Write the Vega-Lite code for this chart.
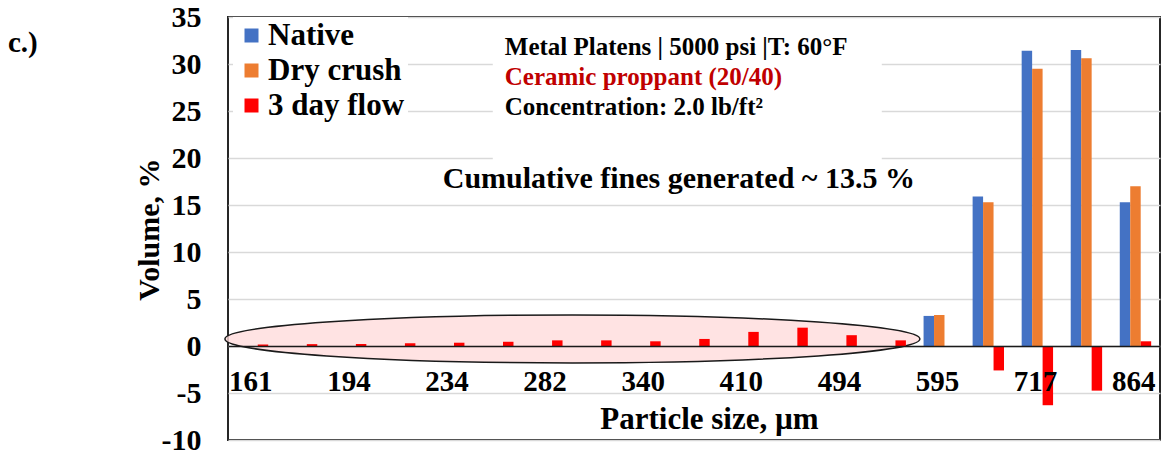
{
  "$schema": "https://vega.github.io/schema/vega-lite/v6.json",
  "width": 932,
  "height": 423,
  "autosize": {"type": "none"},
  "padding": {"left": 228, "top": 17, "right": 2, "bottom": 12},
  "background": "white",
  "config": {
    "font": "Liberation Serif",
    "view": {"stroke": "#262626", "strokeWidth": 2},
    "text": {"font": "Liberation Serif", "fontWeight": "bold"}
  },
  "title": {
    "text": "c.)",
    "anchor": "start",
    "frame": "group",
    "orient": "top",
    "font": "Liberation Serif",
    "fontSize": 29,
    "fontWeight": "bold",
    "color": "black",
    "baseline": "alphabetic",
    "offset": 0,
    "dx": -220,
    "dy": 79
  },
  "datasets": {
    "psd": [
      {"size": "161", "series": "3 day flow", "value": 0.15},
      {"size": "177", "series": "3 day flow", "value": 0.2},
      {"size": "194", "series": "3 day flow", "value": 0.2},
      {"size": "213", "series": "3 day flow", "value": 0.3},
      {"size": "234", "series": "3 day flow", "value": 0.35},
      {"size": "257", "series": "3 day flow", "value": 0.45},
      {"size": "282", "series": "3 day flow", "value": 0.6},
      {"size": "310", "series": "3 day flow", "value": 0.6},
      {"size": "340", "series": "3 day flow", "value": 0.5},
      {"size": "374", "series": "3 day flow", "value": 0.75},
      {"size": "410", "series": "3 day flow", "value": 1.5},
      {"size": "450", "series": "3 day flow", "value": 1.95},
      {"size": "494", "series": "3 day flow", "value": 1.15},
      {"size": "543", "series": "3 day flow", "value": 0.6},
      {"size": "595", "series": "Native", "value": 3.2},
      {"size": "595", "series": "Dry crush", "value": 3.3},
      {"size": "595", "series": "3 day flow", "value": 0},
      {"size": "654", "series": "Native", "value": 15.9},
      {"size": "654", "series": "Dry crush", "value": 15.3},
      {"size": "654", "series": "3 day flow", "value": -2.6},
      {"size": "717", "series": "Native", "value": 31.4},
      {"size": "717", "series": "Dry crush", "value": 29.5},
      {"size": "717", "series": "3 day flow", "value": -6.3},
      {"size": "787", "series": "Native", "value": 31.5},
      {"size": "787", "series": "Dry crush", "value": 30.6},
      {"size": "787", "series": "3 day flow", "value": -4.75},
      {"size": "864", "series": "Native", "value": 15.3},
      {"size": "864", "series": "Dry crush", "value": 17.0},
      {"size": "864", "series": "3 day flow", "value": 0.5}
    ]
  },
  "layer": [
    {
      "description": "white backing behind the test-condition note",
      "data": {"values": [{"size": "257", "value": 31}]},
      "mark": {
        "type": "point",
        "shape": "M -5 -30 H 384 V 110 H -5 Z",
        "size": 4,
        "filled": true,
        "fill": "white",
        "opacity": 1,
        "strokeWidth": 0
      },
      "encoding": {
        "x": {"field": "size", "type": "nominal"},
        "y": {"field": "value", "type": "quantitative"}
      }
    },
    {
      "description": "ellipse around the fines generated in the small size classes",
      "data": {"values": [{"size": "310", "value": 0.75}]},
      "mark": {
        "type": "point",
        "shape": "M -371 0 A 347.5 24 0 1 0 324 0 A 347.5 24 0 1 0 -371 0 Z",
        "size": 4,
        "filled": true,
        "fill": "#FFDCDC",
        "fillOpacity": 0.8,
        "opacity": 1,
        "stroke": "#1a1a1a",
        "strokeWidth": 1.5
      },
      "encoding": {
        "x": {"field": "size", "type": "nominal"},
        "y": {"field": "value", "type": "quantitative"}
      }
    },
    {
      "data": {"name": "psd"},
      "mark": {"type": "bar"},
      "encoding": {
        "x": {
          "field": "size",
          "type": "nominal",
          "sort": null,
          "scale": {
            "domain": ["161", "177", "194", "213", "234", "257", "282", "310", "340", "374", "410", "450", "494", "543", "595", "654", "717", "787", "864"],
            "paddingInner": 0.36,
            "paddingOuter": 0.18
          },
          "axis": {
            "title": "Particle size, µm",
            "values": ["161", "194", "234", "282", "340", "410", "494", "595", "717", "864"],
            "bandPosition": 0.5,
            "labelOffset": 20,
            "offset": -94,
            "zindex": 1,
            "grid": false,
            "ticks": false,
            "domainColor": "#1a1a1a",
            "domainWidth": 1.5,
            "labelAngle": 0,
            "labelFont": "Liberation Serif",
            "labelFontSize": 29,
            "labelFontWeight": "bold",
            "labelColor": "black",
            "labelPadding": 35,
            "titleFont": "Liberation Serif",
            "titleFontSize": 31,
            "titleFontWeight": "bold",
            "titleColor": "black",
            "titleX": 481,
            "titleY": 82,
            "titleBaseline": "alphabetic"
          }
        },
        "y": {
          "field": "value",
          "type": "quantitative",
          "scale": {"domain": [-10, 35], "nice": false, "zero": false},
          "axis": {
            "title": "Volume, %",
            "values": [-10, -5, 0, 5, 10, 15, 20, 25, 30, 35],
            "labelExpr": "replace(datum.label, '−', '-')",
            "grid": true,
            "gridColor": "#d9d9d9",
            "gridWidth": 1.5,
            "domain": false,
            "ticks": false,
            "labelFont": "Liberation Serif",
            "labelFontSize": 30,
            "labelFontWeight": "bold",
            "labelColor": "black",
            "labelPadding": 27,
            "titleFont": "Liberation Serif",
            "titleFontSize": 30,
            "titleFontWeight": "bold",
            "titleColor": "black",
            "titleX": -70,
            "titleY": 212,
            "titleBaseline": "alphabetic"
          }
        },
        "xOffset": {
          "field": "series",
          "type": "nominal",
          "scale": {"domain": ["Native", "Dry crush", "3 day flow"], "paddingInner": 0, "paddingOuter": 0}
        },
        "color": {
          "field": "series",
          "type": "nominal",
          "scale": {"domain": ["Native", "Dry crush", "3 day flow"], "range": ["#4472C4", "#ED7D31", "#FF0000"]},
          "legend": {
            "title": null,
            "orient": "none",
            "legendX": 5,
            "legendY": 0,
            "padding": 3,
            "fillColor": "white",
            "symbolType": "square",
            "symbolSize": 196,
            "symbolStrokeWidth": 0,
            "labelFont": "Liberation Serif",
            "labelFontSize": 31,
            "labelFontWeight": "bold",
            "labelColor": "black",
            "labelOffset": 1,
            "rowPadding": 3
          }
        }
      }
    },
    {
      "data": {"values": [
        {"size": "257", "value": 31, "note": "Metal Platens | 5000 psi |T: 60°F"},
        {"size": "257", "value": 24.6, "note": "Concentration: 2.0 lb/ft²"}
      ]},
      "mark": {"type": "text", "align": "left", "baseline": "alphabetic", "dx": 7, "font": "Liberation Serif", "fontSize": 25, "fontWeight": "bold", "color": "black"},
      "encoding": {
        "x": {"field": "size", "type": "nominal"},
        "y": {"field": "value", "type": "quantitative"},
        "text": {"field": "note"}
      }
    },
    {
      "data": {"values": [{"size": "257", "value": 27.8, "note": "Ceramic proppant (20/40)"}]},
      "mark": {"type": "text", "align": "left", "baseline": "alphabetic", "dx": 7, "font": "Liberation Serif", "fontSize": 25, "fontWeight": "bold", "color": "#C00000"},
      "encoding": {
        "x": {"field": "size", "type": "nominal"},
        "y": {"field": "value", "type": "quantitative"},
        "text": {"field": "note"}
      }
    },
    {
      "data": {"values": [{"size": "234", "value": 16.8, "note": "Cumulative fines generated ~ 13.5 %"}]},
      "mark": {"type": "text", "align": "left", "baseline": "alphabetic", "dx": -6, "font": "Liberation Serif", "fontSize": 30, "fontWeight": "bold", "color": "black"},
      "encoding": {
        "x": {"field": "size", "type": "nominal"},
        "y": {"field": "value", "type": "quantitative"},
        "text": {"field": "note"}
      }
    }
  ]
}
